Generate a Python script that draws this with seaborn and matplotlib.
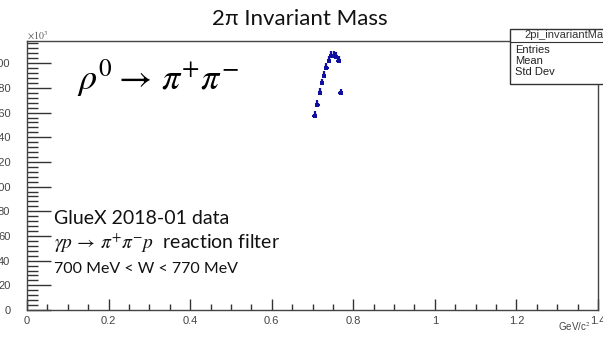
import matplotlib
matplotlib.use("Agg")
import matplotlib.pyplot as plt
import seaborn as sns
import pandas as pd
from matplotlib.ticker import MultipleLocator
from matplotlib.patches import Rectangle

# data (mass in GeV/c^2, counts in thousands)
mass = [0.705, 0.712, 0.7185, 0.7235, 0.728, 0.734, 0.740, 0.746, 0.752, 0.757, 0.764, 0.769]
counts = [157, 166, 176, 183.6, 189.7, 196.2, 201.9, 205.7, 205.9, 205.1, 201.9, 175.5]
x_ticks = [0, 0.2, 0.4, 0.6, 0.8, 1.0, 1.2, 1.4]
x_tick_labels = ["0", "0.2", "0.4", "0.6", "0.8", "1", "1.2", "1.4"]
y_ticks = [0, 20, 40, 60, 80, 100, 120, 140, 160, 180, 200]
y_tick_labels = ["0", "20", "40", "60", "80", "100", "120", "140", "160", "180", "200"]
stat_labels = ["Entries", "Mean", "Std Dev"]

df = pd.DataFrame({"mass": mass, "counts": counts})

sns.set_style("ticks")
plt.rcParams["font.family"] = ["Liberation Sans", "DejaVu Sans"]
plt.rcParams["mathtext.fontset"] = "stix"

fig = plt.figure(figsize=(6.03, 3.38), dpi=100)
ax = fig.add_axes([27 / 603, 1 - 310 / 338, (598 - 27) / 603, (310 - 41) / 338])

blue = "#1010a0"
ax.errorbar(df["mass"], df["counts"], xerr=0.0055, yerr=[[1.5] * len(counts), [4.0] * len(counts)],
            fmt="none", ecolor=blue, elinewidth=1.6, capsize=0)
sns.scatterplot(data=df, x="mass", y="counts", ax=ax, marker="s", s=5,
                color=blue, edgecolor=blue, linewidth=0, legend=False)

ax.set_xlim(0, 1.4)
ax.set_ylim(0, 218)
ax.set_xticks(x_ticks)
ax.set_xticklabels(x_tick_labels)
ax.set_yticks(y_ticks)
ax.set_yticklabels(y_tick_labels)
ax.xaxis.set_minor_locator(MultipleLocator(0.05))
ax.yaxis.set_minor_locator(MultipleLocator(4))
ax.tick_params(axis="both", which="both", direction="in", colors="#333333",
               labelcolor="#444444")
ax.tick_params(axis="x", which="major", length=8, width=1.0, pad=4, labelsize=8)
ax.tick_params(axis="x", which="minor", length=4, width=1.0)
ax.tick_params(axis="y", which="major", length=17, width=1.0, pad=12, labelsize=8)
ax.tick_params(axis="y", which="minor", length=8, width=1.0)
for s in ax.spines.values():
    s.set_color("#444444")
    s.set_linewidth(1.0)
ax.set_xlabel("")
ax.set_ylabel("")

# title
fig.text(0.497, 1 - 19 / 338, "2π Invariant Mass", ha="center", va="center",
         fontsize=16, family=["Lato", "DejaVu Sans"], color="#111111")

# axis extras
fig.text(27 / 603, 1 - 36 / 338, r"$\times10^{3}$", ha="left", va="center",
         fontsize=7, color="#555555")
fig.text(590 / 603, 1 - 327 / 338, r"GeV/c$^{2}$", ha="right", va="center",
         fontsize=7, color="#444444")

# annotations
ax.text(0.123, 188, r"$\rho^{0} \rightarrow\, \pi^{+}\pi^{-}$", fontsize=26,
        ha="left", va="center", color="black")
lato = ["Lato", "DejaVu Sans"]
ax.text(0.067, 74, "GlueX 2018-01 data", fontsize=14, family=lato,
        ha="left", va="center", color="#111111")
ax.text(0.067, 54, r"$\gamma p \,\rightarrow\, \pi^{+}\pi^{-}p$  reaction filter",
        fontsize=14, family=lato, ha="left", va="center", color="#111111")
ax.text(0.067, 33, "700 MeV < W < 770 MeV", fontsize=11.5, family=lato,
        ha="left", va="center", color="#111111")

# stats box (partially outside the figure, as in the reference)
bx0, by0, bw, bh = 510 / 603, 1 - 84 / 338, 140 / 603, (84 - 29) / 338
fig.patches.append(Rectangle((bx0, by0), bw, bh, transform=fig.transFigure,
                             facecolor="white", edgecolor="#333333", linewidth=1.0,
                             zorder=5))
fig.lines.append(plt.Line2D([bx0, bx0 + bw], [1 - 42 / 338, 1 - 42 / 338],
                            transform=fig.transFigure, color="#333333",
                            linewidth=0.8, zorder=6))
fig.text(524 / 603, 1 - 35.5 / 338, "2pi_invariantMass", fontsize=8, ha="left",
         va="center", color="#333333", zorder=7)
for i, lab in enumerate(stat_labels):
    fig.text(515 / 603, 1 - (50 + 11 * i) / 338, lab, fontsize=8, ha="left",
             va="center", color="#222222", zorder=7)

fig.savefig("out.png", dpi=100)
